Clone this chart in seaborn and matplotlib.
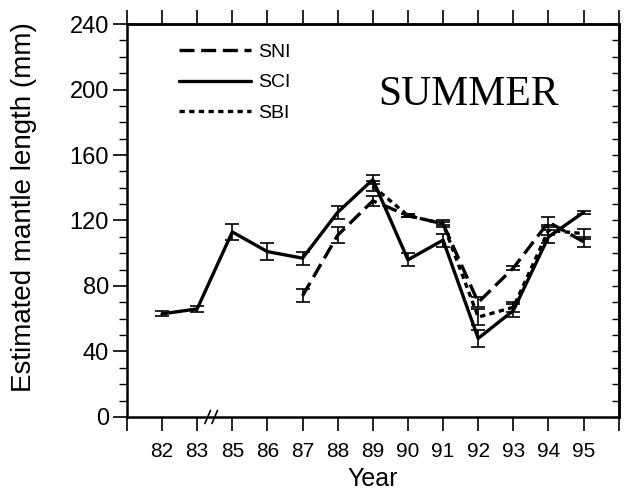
import matplotlib
matplotlib.use("Agg")
import matplotlib.pyplot as plt
from matplotlib.ticker import MultipleLocator
import seaborn as sns
import pandas as pd

# values
years = ["82", "83", "85", "86", "87", "88", "89", "90", "91", "92", "93", "94", "95"]

sci_years = ["82", "83", "85", "86", "87", "88", "89", "90", "91", "92", "93", "94", "95"]
sci_mean = [63, 66, 113, 101, 97, 125, 145, 96, 108, 48, 65, 110, 125]
sci_err = [1.5, 2, 5, 5, 4, 4, 3, 4, 4, 5, 4, 4, 1]

sni_years = ["87", "88", "89", "90", "91", "92", "93", "94", "95"]
sni_mean = [74, 111, 132, 123, 118, 70, 91, 119, 107]
sni_err = [4, 5, 3, 1, 2, 3, 1.5, 3, 3]

sbi_years = ["89", "90", "91", "92", "93", "94", "95"]
sbi_mean = [141, 123, 118, 61, 67, 114, 112]
sbi_err = [3, 1, 1, 5, 3, 3, 3]

sns.set_style("ticks", {"text.color": "black", "xtick.color": "black",
                        "ytick.color": "black", "axes.edgecolor": "black",
                        "axes.labelcolor": "black"})
plt.rcParams["font.family"] = ["Liberation Sans", "DejaVu Sans"]

pos = {y: i + 1 for i, y in enumerate(years)}

frames = []
for name, yrs, mean in [("SNI", sni_years, sni_mean),
                        ("SCI", sci_years, sci_mean),
                        ("SBI", sbi_years, sbi_mean)]:
    frames.append(pd.DataFrame({"x": [pos[y] for y in yrs], "val": mean, "site": name}))
df = pd.concat(frames, ignore_index=True)

fig = plt.figure(figsize=(6.25, 4.9), dpi=100)
ax = fig.add_axes([0.203, 0.149, 0.787, 0.802])

dash_map = {"SNI": (4.5, 2), "SCI": "", "SBI": (1.6, 1.3)}
sns.lineplot(data=df, x="x", y="val", hue="site", style="site",
             dashes=dash_map, palette={"SNI": "black", "SCI": "black", "SBI": "black"},
             linewidth=2.4, ax=ax, legend=True, sort=False)

for yrs, mean, err in [(sni_years, sni_mean, sni_err),
                       (sci_years, sci_mean, sci_err),
                       (sbi_years, sbi_mean, sbi_err)]:
    ax.errorbar([pos[y] for y in yrs], mean, yerr=err, fmt="none",
                ecolor="black", elinewidth=1.2, capsize=5, capthick=1.2)

ax.set_xlim(0, 14)
ax.set_ylim(0, 240)
ax.set_xticks(range(0, 15))
ax.set_xticklabels([""] + years + [""], fontsize=15)
ax.yaxis.set_major_locator(MultipleLocator(40))
ax.yaxis.set_minor_locator(MultipleLocator(10))
ax.tick_params(axis="y", which="major", direction="out", length=10, width=1.2,
               labelsize=17, pad=3)
ax.tick_params(axis="y", which="minor", direction="out", length=6, width=1.0)
ax.tick_params(axis="x", which="major", direction="out", length=10, width=1.2, pad=8)

# right side: inward ticks every 10, no labels
right = ax.secondary_yaxis("right")
right.set_yticks(range(0, 241, 10))
right.tick_params(axis="y", direction="in", length=5, width=1.0, labelright=False)

# top side: outward ticks at the year positions, no labels
top = ax.secondary_xaxis("top")
top.set_xticks(range(0, 15))
top.tick_params(axis="x", direction="out", length=10, width=1.2, labeltop=False)

for s in ax.spines.values():
    s.set_visible(True)
    s.set_linewidth(1.8)
    s.set_color("black")
for sec in (right, top):
    for s in sec.spines.values():
        s.set_linewidth(1.8)
        s.set_color("black")

ax.set_xlabel("Year", fontsize=18, labelpad=4)
ax.set_ylabel("Estimated mantle length (mm)", fontsize=20)
ax.yaxis.set_label_coords(-0.183, 0.534)

# axis break marks between 83 and 85
for dx in (2.3, 2.5):
    ax.plot([dx - 0.08, dx + 0.08], [-4, 4], color="black", lw=1.2, clip_on=False)

handles, labels = ax.get_legend_handles_labels()
ax.legend(handles, labels, loc="upper left", bbox_to_anchor=(0.07, 0.995), frameon=False,
          fontsize=14, handlelength=3.7, labelspacing=0.65, handletextpad=0.4)

ax.text(0.695, 0.82, "SUMMER", transform=ax.transAxes, ha="center", va="center",
        fontsize=30, family=["Liberation Serif", "DejaVu Serif"])

fig.savefig("out.png", dpi=100)
